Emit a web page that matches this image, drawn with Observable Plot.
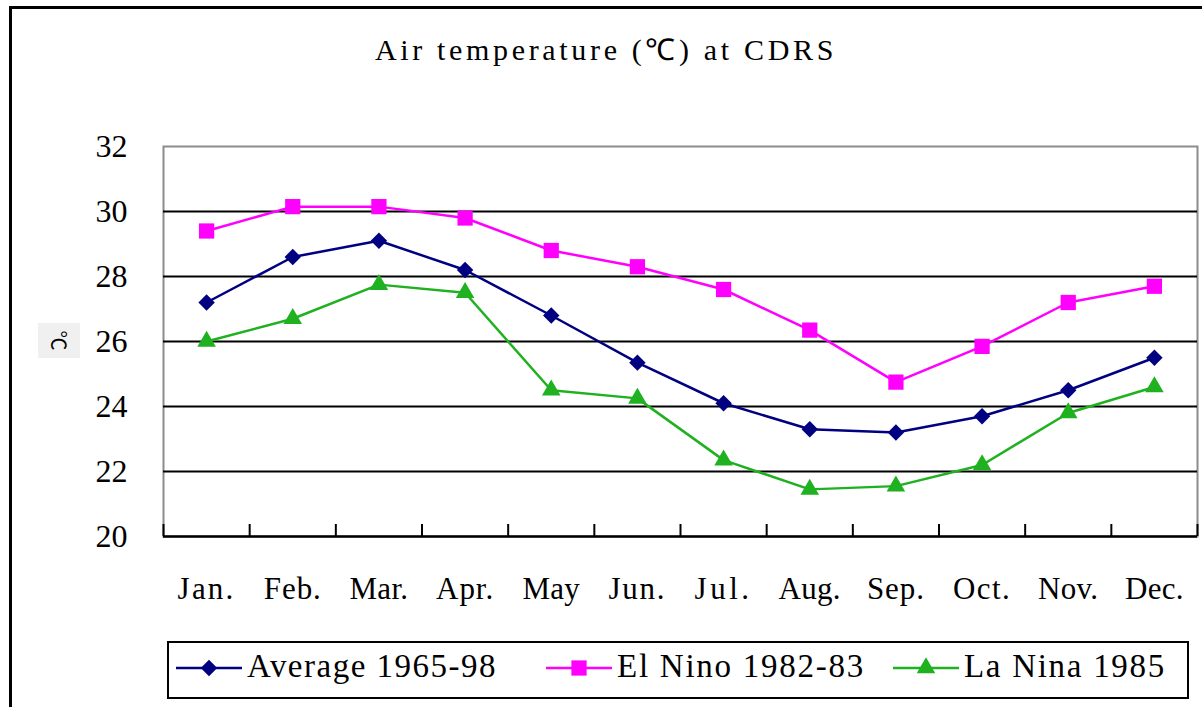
<!DOCTYPE html>
<html><head><meta charset="utf-8">
<script src="https://cdn.jsdelivr.net/npm/d3@7"></script>
<script src="https://cdn.jsdelivr.net/npm/@observablehq/plot@0.6"></script>
<style>
body{margin:0;background:#fff;}
#wrap{position:relative;width:1202px;height:707px;overflow:hidden;background:#fff;font-family:'Liberation Serif';color:#000;}
#frame{position:absolute;left:9px;top:6px;width:1300px;height:800px;border-top:3px solid #000;border-left:3px solid #000;}
#title{position:absolute;left:375px;top:35px;font-size:30px;line-height:30px;white-space:nowrap;}
#chart{position:absolute;left:0;top:100px;}
#ylab{position:absolute;left:38px;top:323px;width:42px;height:35px;background:#f0f0f0;display:flex;align-items:center;justify-content:center;}
#ylab span{display:inline-block;transform:rotate(90deg);font-size:20px;font-family:'Noto Sans CJK SC';}
#legend{position:absolute;left:167px;top:641px;width:1018px;height:54px;border:2px solid #000;background:#fff;}
.item{position:absolute;top:-4px;height:54px;display:flex;align-items:center;font-size:33px;white-space:nowrap;}
.item svg{margin-right:5px;position:relative;top:2px;}
</style></head>
<body>
<div id="wrap">
  <div id="frame"></div>
  <div id="title"><span id="titletext">Air temperature (℃) at CDRS</span></div>
  <div id="chart"></div>
  <div id="ylab"><span>℃</span></div>
  <div id="legend"></div>
</div>
<script>
const months = ["Jan.","Feb.","Mar.","Apr.","May","Jun.","Jul.","Aug.","Sep.","Oct.","Nov.","Dec."];
const average = [27.2,28.6,29.1,28.2,26.8,25.35,24.1,23.3,23.2,23.7,24.5,25.5];
const elNino = [29.4,30.15,30.15,29.8,28.8,28.3,27.6,26.35,24.75,25.85,27.2,27.7];
const laNina = [26.0,26.7,27.75,27.5,24.5,24.25,22.35,21.45,21.55,22.2,23.8,24.6];
const yTicks = [20,22,24,26,28,30,32];
const seriesNames = ["Average 1965-98","El Nino 1982-83","La Nina 1985"];
const seriesValues = [average, elNino, laNina];
const colors = ["#000080","#FF00FF","#1FB11F"];
const symbols = ["diamond2","square","triangle"];
const radii = [7.4, 8.6, 6.9];
const serif = "Liberation Serif";

const rows = seriesValues.map((vals, s) => vals.map((v, i) => ({i, month: months[i], value: v, s})));

const marks = [
  Plot.frame({stroke: "#8c8c8c", strokeWidth: 2}),
  Plot.ruleY(yTicks.filter(v => v > yTicks[0] && v < yTicks[yTicks.length-1]), {stroke: "#000", strokeWidth: 2.2}),
  Plot.ruleY([yTicks[0]], {stroke: "#000", strokeWidth: 2.5}),
  Plot.ruleX(d3.range(months.length + 1), {stroke: "#000", strokeWidth: 2, insetTop: 378}),
  Plot.axisY(yTicks, {tickSize: 0, tickPadding: 36, fontSize: 32, fontFamily: serif, label: null}),
  Plot.axisX(months.map((m, i) => i + 0.5), {tickSize: 0, tickPadding: 40, fontSize: 31, fontFamily: serif, tickFormat: d => months[Math.floor(d)], label: null})
];
rows.forEach((data, s) => {
  marks.push(Plot.line(data, {x: d => d.i + 0.5, y: "value", stroke: colors[s], strokeWidth: 2.5}));
  marks.push(Plot.dot(data, {x: d => d.i + 0.5, y: "value", symbol: symbols[s], fill: colors[s], stroke: "none", r: radii[s]}));
});

const chart = Plot.plot({
  width: 1202,
  height: 500,
  marginLeft: 163,
  marginRight: 5,
  marginTop: 46,
  marginBottom: 64,
  x: {type: "linear", domain: [0, months.length], label: null},
  y: {domain: [yTicks[0], yTicks[yTicks.length-1]], label: null},
  style: {background: "transparent", overflow: "visible", color: "#000", fontFamily: serif},
  marks
});
document.getElementById("chart").appendChild(chart);
// monospace-like label widths (about 14.5px per character, as in the reference)
chart.querySelectorAll('[aria-label="x-axis tick label"] text').forEach(t => {
  const n = t.textContent.length;
  const w = t.getComputedTextLength();
  const ls = Math.max(0.3, (14.5 * n - w) / n);
  t.style.letterSpacing = ls + "px";
});

function fit(el, target) {
  el.style.letterSpacing = "0px";
  const w = el.getBoundingClientRect().width;
  const n = el.textContent.length;
  el.style.letterSpacing = ((target - w) / n) + "px";
}
fit(document.getElementById("titletext"), 462);

// Legend
const legend = document.getElementById("legend");
const itemLefts = [7, 377, 724];
const textWidths = [250, 248, 202];
seriesNames.forEach((name, s) => {
  const item = document.createElement("div");
  item.className = "item";
  item.style.left = itemLefts[s] + "px";
  const sym = d3.symbol(s === 0 ? d3.symbolDiamond2 : s === 1 ? d3.symbolSquare : d3.symbolTriangle, Math.PI * radii[s] * radii[s])();
  item.innerHTML = `<svg width="66" height="24"><line x1="0" x2="66" y1="12" y2="12" stroke="${colors[s]}" stroke-width="2.5"/><path transform="translate(33,12)" d="${sym}" fill="${colors[s]}"/></svg><span>${name}</span>`;
  legend.appendChild(item);
  fit(item.querySelector("span"), textWidths[s]);
});
</script>
</body></html>
